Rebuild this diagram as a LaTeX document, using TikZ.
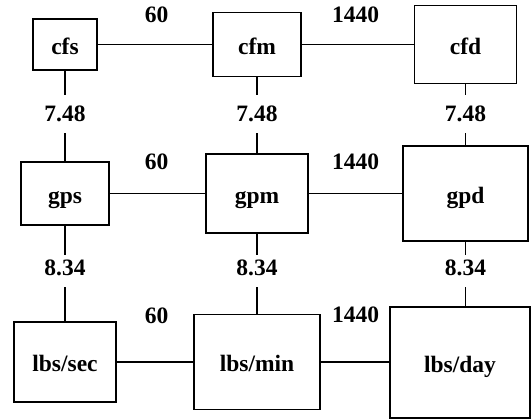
\documentclass[tikz,border=0pt]{standalone}
\usepackage{fontspec}
\setmainfont{Liberation Serif}
\begin{document}
\begin{tikzpicture}[x=1pt,y=-1pt,
  box/.style={draw, line width=1.9pt, inner sep=0pt, font=\bfseries\fontsize{23.5}{27}\selectfont, text height=21pt, text depth=1pt},
  num/.style={inner sep=0pt, font=\bfseries\fontsize{23.5}{27}\selectfont, text height=15.8pt, text depth=0pt},
  conn/.style={line width=1.9pt}]
\useasboundingbox (0,0) rectangle (531,419);
% row 1
\node[box, minimum width=64pt, minimum height=51pt] (cfs) at (65,44.5) {cfs};
\node[box, minimum width=88pt, minimum height=64pt] (cfm) at (257,44.5) {cfm};
\node[box, minimum width=102pt, minimum height=78pt] (cfd) at (465.5,44.5) {cfd};
% row 2
\node[box, minimum width=88pt, minimum height=63pt] (gps) at (65,193.5) {gps};
\node[box, minimum width=102pt, minimum height=79pt] (gpm) at (257,193.5) {gpm};
\node[box, minimum width=125pt, minimum height=95pt] (gpd) at (465.5,193.5) {gpd};
% row 3
\node[box, minimum width=102pt, minimum height=80pt] (lsec) at (65,362) {lbs/sec};
\node[box, minimum width=126pt, minimum height=95pt] (lmin) at (257,362) {lbs/min};
\node[box, minimum width=140pt, minimum height=111pt] (lday) at (460,362.5) {lbs/day};
% horizontal labels
\node[num] (h1a) at (156.5,15) {60};
\node[num] (h1b) at (355.5,15) {1440};
\node[num] (h2a) at (156.5,161.5) {60};
\node[num] (h2b) at (355.5,161.5) {1440};
\node[num] (h3a) at (156.5,315.5) {60};
\node[num] (h3b) at (355.5,315) {1440};
% vertical labels
\node[num, minimum height=38pt] (v1a) at (65,114) {7.48};
\node[num, minimum height=38pt] (v1b) at (257,114) {7.48};
\node[num, minimum height=38pt] (v1c) at (465.5,114) {7.48};
\node[num, minimum height=32pt, text depth=6pt] (v2a) at (65,271) {8.34};
\node[num, minimum height=32pt, text depth=6pt] (v2b) at (257,271) {8.34};
\node[num, minimum height=32pt, text depth=6pt] (v2c) at (465.5,271) {8.34};
% horizontal connectors
\draw[conn] (cfs) -- (cfm);
\draw[conn] (cfm) -- (cfd);
\draw[conn] (gps) -- (gpm);
\draw[conn] (gpm) -- (gpd);
\draw[conn] (lsec) -- (lmin);
\draw[conn] (lmin.east) -- (lday.west |- lmin.east);
% vertical connectors
\draw[conn] (cfs) -- (v1a);
\draw[conn] (v1a) -- (gps);
\draw[conn] (cfm) -- (v1b);
\draw[conn] (v1b) -- (gpm);
\draw[conn] (cfd) -- (v1c);
\draw[conn] (v1c) -- (gpd);
\draw[conn] (gps) -- (v2a);
\draw[conn] (v2a) -- (lsec);
\draw[conn] (gpm) -- (v2b);
\draw[conn] (v2b) -- (lmin);
\draw[conn] (gpd) -- (v2c);
\draw[conn] (v2c.south) -- (v2c.south |- lday.north);
\end{tikzpicture}
\end{document}
